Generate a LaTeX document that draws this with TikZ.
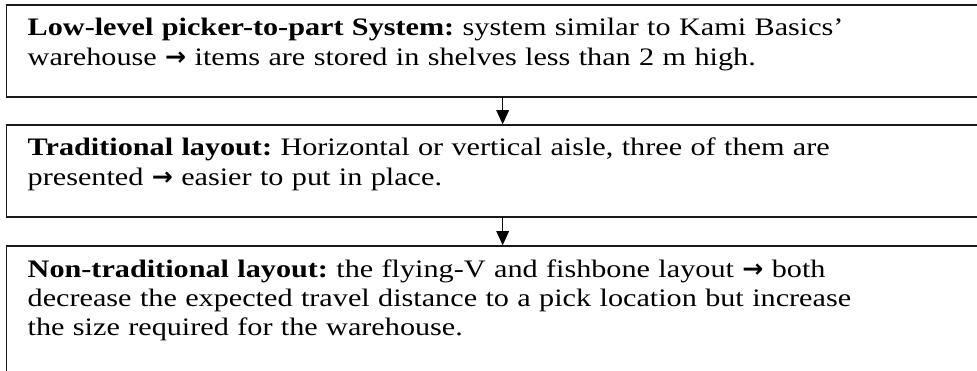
\documentclass[tikz,border=0pt]{standalone}
\usepackage{fontspec}
\setmainfont{Liberation Serif}[FakeStretch=1.2]
\newfontfamily\arrowfont{DejaVu Sans}
\usetikzlibrary{arrows.meta}
\newcommand{\goesto}{{\arrowfont\bfseries\symbol{"2192}}}
\frenchspacing

\begin{document}
\begin{tikzpicture}[x=0.6pt,y=-0.6pt]
  \tikzstyle{stage}=[draw=black!90,line width=0.85pt,anchor=base west,
    inner xsep=12.6pt,inner ysep=0pt,text width=590pt,align=left,
    text height=18.6pt,font=\fontsize{15.1}{17.7}\selectfont]
  \tikzstyle{flow}=[-{Triangle[length=8.5pt,width=7.6pt]},line width=0.6pt]
  \clip (0,0) rectangle (977,371);
  % boxes hang from the baseline of their first line
  \node[stage,text depth=36.6pt] (lowlevel) at (6,36)
    {\textbf{Low-level picker-to-part System:} system similar to Kami Basics'\\
     warehouse \goesto{} items are stored in shelves less than 2 m high.};
  \node[stage,text depth=36.6pt] (traditional) at (6,156)
    {\textbf{Traditional layout:} Horizontal or vertical aisle, three of them are\\
     presented \goesto{} easier to put in place.};
  \node[stage,text depth=90pt] (nontraditional) at (6,277)
    {\textbf{Non-traditional layout:} the flying-V and fishbone layout \goesto{} both\\
     decrease the expected travel distance to a pick location but increase\\
     the size required for the warehouse.};
  % arrows between the stages
  \draw[flow] ([xshift=298pt]lowlevel.south west) -- ([xshift=298pt]traditional.north west);
  \draw[flow] ([xshift=298pt]traditional.south west) -- ([xshift=298pt]nontraditional.north west);
\end{tikzpicture}
\end{document}
